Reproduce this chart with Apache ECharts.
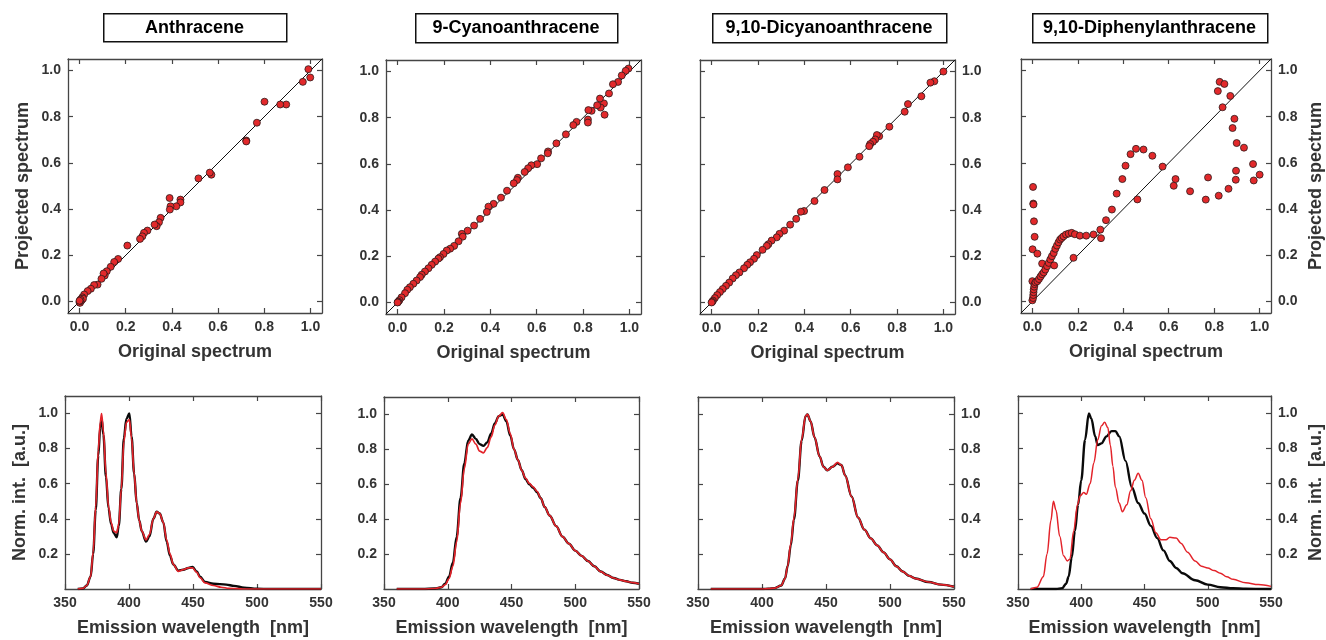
<!DOCTYPE html>
<html>
<head>
<meta charset="utf-8">
<script src="https://cdn.jsdelivr.net/npm/echarts@6/dist/echarts.min.js"></script>
<style>html,body{margin:0;background:#fff}#main{width:1326px;height:640px}</style>
</head>
<body>
<div id="main"></div>
<script>
// compound names (panel titles)
const titles = ['Anthracene', '9-Cyanoanthracene', '9,10-Dicyanoanthracene', '9,10-Diphenylanthracene'];

// tick labels
const scatterTicks = [0, 0.2, 0.4, 0.6, 0.8, 1.0];
const normTicks = [0.2, 0.4, 0.6, 0.8, 1.0];
const wlTicks = [350, 400, 450, 500, 550];

// identity line
const diag = [[-0.05, -0.05], [1.05, 1.05]];

// top row: [original, projected]
const anthScatter = [[0.999,0.970],[0.991,1.006],[0.967,0.951],[0.895,0.853],[0.869,0.853],[0.801,0.865],[0.768,0.774],[0.722,0.697],[0.722,0.693],[0.571,0.549],[0.564,0.558],[0.515,0.533],[0.437,0.441],[0.437,0.429],[0.419,0.412],[0.394,0.412],[0.390,0.448],[0.391,0.398],[0.351,0.362],[0.344,0.343],[0.334,0.326],[0.325,0.333],[0.294,0.307],[0.279,0.297],[0.272,0.282],[0.262,0.271],[0.207,0.242],[0.167,0.184],[0.150,0.171],[0.135,0.150],[0.118,0.131],[0.109,0.112],[0.104,0.121],[0.095,0.098],[0.078,0.073],[0.063,0.071],[0.049,0.055],[0.035,0.045],[0.020,0.030],[0.012,0.018],[0.008,0.010],[0.005,0.004],[0.003,0.001],[0.001,0.0],[0.0,-0.004],[0.002,-0.006],[0.006,0.002],[0.010,0.006],[0.015,0.012],[0.004,0.008],[0.0,0.003]];

const cyanoScatter = [[0.996,1.013],[0.984,1.003],[0.967,0.983],[0.951,0.955],[0.929,0.945],[0.912,0.905],[0.890,0.862],[0.873,0.883],[0.876,0.844],[0.893,0.813],[0.861,0.854],[0.837,0.830],[0.823,0.833],[0.821,0.792],[0.821,0.779],[0.772,0.782],[0.758,0.768],[0.726,0.728],[0.685,0.689],[0.649,0.654],[0.648,0.646],[0.619,0.624],[0.602,0.599],[0.577,0.594],[0.563,0.581],[0.548,0.565],[0.519,0.540],[0.515,0.530],[0.501,0.516],[0.472,0.484],[0.446,0.454],[0.414,0.427],[0.392,0.415],[0.385,0.392],[0.356,0.362],[0.330,0.333],[0.302,0.311],[0.277,0.297],[0.281,0.285],[0.263,0.265],[0.244,0.245],[0.227,0.233],[0.212,0.225],[0.198,0.210],[0.183,0.196],[0.176,0.190],[0.162,0.177],[0.147,0.163],[0.133,0.148],[0.118,0.134],[0.104,0.120],[0.097,0.110],[0.082,0.095],[0.068,0.081],[0.053,0.066],[0.042,0.055],[0.032,0.040],[0.017,0.022],[0.008,0.010],[0.003,0.004],[0.001,0.001],[0.0,0.0]];

const dicyanoScatter = [[1.0,1.0],[0.961,0.958],[0.944,0.952],[0.905,0.893],[0.847,0.859],[0.833,0.826],[0.767,0.761],[0.723,0.720],[0.713,0.725],[0.706,0.706],[0.696,0.696],[0.684,0.686],[0.680,0.677],[0.638,0.631],[0.588,0.585],[0.543,0.556],[0.543,0.533],[0.487,0.487],[0.444,0.439],[0.399,0.396],[0.385,0.393],[0.365,0.362],[0.339,0.337],[0.313,0.311],[0.293,0.297],[0.281,0.282],[0.259,0.268],[0.245,0.252],[0.238,0.245],[0.220,0.228],[0.195,0.205],[0.183,0.189],[0.166,0.174],[0.154,0.163],[0.140,0.148],[0.120,0.130],[0.105,0.118],[0.091,0.104],[0.076,0.086],[0.062,0.072],[0.048,0.058],[0.036,0.045],[0.024,0.032],[0.014,0.019],[0.006,0.008],[0.003,0.003],[0.0,0.0]];

const dpaScatter = [[0.003,0.496],[0.004,0.424],[0.005,0.420],[0.007,0.347],[0.010,0.280],[0.001,0.226],[0.022,0.207],[0.0,0.088],[0.043,0.164],[0.0,0.005],[0.003,0.015],[0.004,0.028],[0.005,0.040],[0.006,0.052],[0.008,0.064],[0.010,0.075],[0.014,0.083],[0.022,0.088],[0.029,0.097],[0.036,0.108],[0.043,0.118],[0.050,0.126],[0.057,0.138],[0.065,0.153],[0.072,0.167],[0.079,0.182],[0.086,0.196],[0.094,0.210],[0.101,0.228],[0.108,0.242],[0.115,0.256],[0.122,0.268],[0.129,0.275],[0.137,0.282],[0.148,0.290],[0.160,0.294],[0.173,0.297],[0.187,0.291],[0.209,0.285],[0.237,0.285],[0.269,0.290],[0.299,0.311],[0.302,0.274],[0.096,0.156],[0.181,0.189],[0.324,0.352],[0.350,0.398],[0.371,0.467],[0.396,0.530],[0.410,0.588],[0.432,0.638],[0.456,0.661],[0.489,0.658],[0.528,0.631],[0.573,0.584],[0.462,0.442],[0.622,0.501],[0.630,0.530],[0.694,0.477],[0.763,0.441],[0.773,0.537],[0.820,0.458],[0.863,0.488],[0.895,0.527],[0.896,0.566],[0.899,0.686],[0.931,0.666],[0.881,0.751],[0.889,0.791],[0.837,0.841],[0.871,0.890],[0.816,0.911],[0.824,0.951],[0.845,0.942],[0.971,0.595],[0.974,0.524],[1.000,0.549]];

// bottom row: [wavelength nm, normalised intensity]
const anthOrig = [[360,0],[364,0.003],[367,0.02],[370,0.07],[372,0.2],[374,0.45],[376,0.76],[377.5,0.92],[378.6,0.97],[380,0.88],[382,0.64],[384,0.46],[386,0.37],[388,0.32],[390.4,0.295],[392,0.36],[394,0.57],[396,0.86],[398,0.97],[400.3,1.0],[402,0.87],[404,0.66],[406,0.49],[408,0.39],[410,0.33],[413.3,0.27],[416,0.3],[419,0.4],[421.6,0.44],[424,0.43],[426.8,0.38],[429.4,0.27],[432,0.19],[434.6,0.14],[438.5,0.105],[442.4,0.11],[446.4,0.12],[449.7,0.125],[452.9,0.1],[455.5,0.07],[459.4,0.04],[466,0.03],[476,0.025],[482,0.018],[490,0.008],[500,0.002],[510,0],[550,0]];
const anthProj = [[360,0],[364,0.003],[367,0.02],[370,0.07],[372,0.21],[374,0.47],[376,0.79],[377.5,0.95],[378.6,1.0],[380,0.9],[382,0.66],[384,0.47],[386,0.38],[388,0.33],[390.4,0.32],[392,0.37],[394,0.57],[396,0.84],[398,0.95],[400.3,0.965],[402,0.86],[404,0.66],[406,0.49],[408,0.39],[410,0.33],[413.3,0.28],[416,0.31],[419,0.4],[421.6,0.44],[424,0.43],[426.8,0.38],[429.4,0.28],[432,0.2],[434.6,0.14],[438.5,0.1],[442.4,0.11],[446.4,0.12],[449.7,0.12],[452.9,0.095],[455.5,0.065],[459.4,0.035],[466,0.02],[472,0.01],[478,0.004],[485,0.002],[490,0],[550,0]];

const cyanoOrig = [[360,0],[370,0],[380,0],[390,0.003],[395,0.01],[398,0.03],[401,0.07],[404,0.15],[407,0.3],[410,0.52],[413,0.72],[416,0.85],[419,0.885],[422,0.86],[425,0.83],[428,0.82],[431,0.84],[434,0.89],[437,0.95],[440,0.99],[443,1.0],[446,0.96],[449,0.88],[452,0.8],[455,0.74],[458,0.68],[461,0.63],[464,0.6],[467,0.58],[470,0.555],[473,0.52],[476,0.47],[480,0.42],[485,0.36],[490,0.3],[495,0.26],[500,0.22],[505,0.19],[510,0.16],[515,0.13],[520,0.1],[525,0.08],[530,0.063],[535,0.052],[540,0.044],[545,0.036],[550,0.03]];
const cyanoProj = [[360,0],[370,0],[380,0],[390,0.003],[395,0.01],[398,0.025],[401,0.06],[404,0.13],[407,0.27],[410,0.49],[413,0.69],[416,0.83],[419,0.86],[422,0.83],[425,0.79],[428,0.78],[431,0.81],[434,0.87],[437,0.94],[440,0.99],[443,1.01],[446,0.97],[449,0.89],[452,0.8],[455,0.74],[458,0.68],[461,0.635],[464,0.605],[467,0.585],[470,0.56],[473,0.52],[476,0.47],[480,0.42],[485,0.36],[490,0.3],[495,0.26],[500,0.22],[505,0.19],[510,0.16],[515,0.13],[520,0.1],[525,0.08],[530,0.063],[535,0.052],[540,0.044],[545,0.036],[550,0.03]];

const dicyanoOrig = [[360,0],[380,0],[400,0],[405,0.002],[410,0.005],[415,0.02],[418,0.06],[420,0.13],[422.5,0.25],[425,0.4],[428,0.62],[431,0.85],[434,0.99],[435.5,1.0],[438,0.96],[441,0.87],[445,0.76],[448,0.7],[451,0.68],[455,0.7],[459,0.72],[462,0.71],[465,0.65],[470,0.53],[475,0.41],[480,0.34],[485,0.29],[490,0.25],[495,0.21],[500,0.17],[505,0.13],[510,0.1],[515,0.075],[520,0.06],[530,0.04],[540,0.025],[550,0.013]];
const dicyanoProj = [[360,0],[380,0],[400,0],[405,0.002],[410,0.005],[415,0.02],[418,0.06],[420,0.13],[422.5,0.26],[425,0.41],[428,0.63],[431,0.86],[434,0.99],[435.5,1.0],[438,0.96],[441,0.87],[445,0.76],[448,0.7],[451,0.68],[455,0.7],[459,0.725],[462,0.71],[465,0.65],[470,0.53],[475,0.41],[480,0.34],[485,0.29],[490,0.25],[495,0.21],[500,0.17],[505,0.13],[510,0.1],[515,0.075],[520,0.06],[530,0.04],[540,0.025],[550,0.013]];

const dpaOrig = [[360,0],[380,0],[385,0.005],[388,0.03],[390,0.07],[392.5,0.18],[395,0.33],[397.5,0.48],[400,0.62],[403,0.85],[406,1.0],[408,0.97],[411,0.87],[413,0.82],[416,0.83],[420,0.87],[424,0.9],[427,0.9],[430,0.87],[435,0.73],[440,0.58],[445,0.49],[450,0.43],[455,0.36],[460,0.29],[465,0.22],[470,0.16],[475,0.12],[480,0.09],[490,0.05],[500,0.025],[510,0.01],[520,0.004],[530,0.001],[550,0]];
const dpaProj = [[360,0],[365,0.01],[370,0.07],[373,0.2],[376,0.39],[378,0.5],[380,0.45],[383,0.3],[386,0.19],[389,0.16],[391,0.17],[394,0.33],[397,0.48],[399,0.53],[402,0.55],[404,0.54],[407,0.6],[410,0.72],[413,0.85],[416,0.93],[418.5,0.95],[421,0.92],[423,0.82],[425,0.7],[427,0.58],[430,0.49],[432.5,0.44],[436,0.48],[439,0.56],[442,0.62],[445,0.66],[448,0.62],[451,0.52],[455,0.4],[459,0.32],[463,0.28],[467,0.28],[470,0.295],[475,0.29],[479,0.26],[484,0.21],[490,0.16],[495,0.13],[500,0.12],[505,0.105],[510,0.09],[515,0.07],[520,0.055],[530,0.035],[540,0.025],[550,0.015]];

const scatterSets = [anthScatter, cyanoScatter, dicyanoScatter, dpaScatter];
const origSets = [anthOrig, cyanoOrig, dicyanoOrig, dpaOrig];
const projSets = [anthProj, cyanoProj, dicyanoProj, dpaProj];

const FONT = 'Liberation Sans, Arial, sans-serif';
const TXT = '#333';
const AXC = '#454545';

// grid boxes in px
const topGrids = [[68,59,254,254],[386,60,255,254],[700,60,255,254],[1021,59,254,254]];
const botGrids = [[65,396,256,193],[384,397,255,192],[698,397,256,192],[1018,396,256,193]];
const titleBoxes = [[103,13,183,28],[415,13,202,29],[712,13,234,29],[1032,13,235,29]];

let grid = [], xAxis = [], yAxis = [], series = [], graphic = [];

function axisBase(min, max, ticks, showLabel, fmt) {
  return {
    type: 'value', min: min, max: max,
    axisLine: { show: true, onZero: false, lineStyle: { color: AXC, width: 1.3 } },
    axisTick: { show: true, inside: true, length: 5, customValues: ticks, lineStyle: { color: AXC, width: 1.2 } },
    axisLabel: { show: showLabel, customValues: ticks, formatter: fmt, margin: 7,
      color: TXT, fontSize: 14, fontWeight: 'bold', fontFamily: FONT },
    splitLine: { show: false }
  };
}
const f1 = v => v.toFixed(1);
const f0 = v => String(v);

function addPanel(box, kind, col) {
  const gi = grid.length;
  grid.push({ left: box[0], top: box[1], width: box[2], height: box[3] });
  const rightSide = col >= 2;
  const nameStyle = { color: TXT, fontSize: 18, fontWeight: 'bold', fontFamily: FONT };
  let xr, yr, xt, yt, xname, yname, xgap;
  if (kind === 'scatter') {
    xr = [-0.05, 1.05]; yr = [-0.05, 1.05]; xt = scatterTicks; yt = scatterTicks;
    xname = 'Original spectrum'; yname = 'Projected spectrum'; xgap = 30;
  } else {
    xr = [350, 550]; yr = [0, 1.1]; xt = wlTicks; yt = normTicks;
    xname = 'Emission wavelength  [nm]'; yname = 'Norm. int.  [a.u.]'; xgap = 30;
  }
  const xfmt = kind === 'scatter' ? f1 : f0;
  const xa = axisBase(xr[0], xr[1], xt, true, xfmt);
  Object.assign(xa, { gridIndex: gi, position: 'bottom', name: xname, nameLocation: 'middle', nameGap: xgap,
    nameTextStyle: nameStyle });
  const xm = axisBase(xr[0], xr[1], xt, false, xfmt);
  Object.assign(xm, { gridIndex: gi, position: 'top' });
  const ya = axisBase(yr[0], yr[1], yt, true, f1);
  Object.assign(ya, { gridIndex: gi, position: rightSide ? 'right' : 'left' });
  if (col === 0 || col === 3) {
    Object.assign(ya, { name: yname, nameLocation: 'middle', nameRotate: 90, nameGap: 36, nameTextStyle: nameStyle });
  }
  const ym = axisBase(yr[0], yr[1], yt, false, f1);
  Object.assign(ym, { gridIndex: gi, position: rightSide ? 'left' : 'right' });
  const xi = xAxis.length, yi = yAxis.length;
  xAxis.push(xa, xm); yAxis.push(ya, ym);

  if (kind === 'scatter') {
    series.push({ type: 'line', xAxisIndex: xi, yAxisIndex: yi, data: diag, symbol: 'none', silent: true,
      lineStyle: { color: '#111', width: 1 }, z: 1 });
    series.push({ type: 'scatter', xAxisIndex: xi, yAxisIndex: yi, data: scatterSets[col], symbolSize: 7,
      itemStyle: { color: '#e2292b', borderColor: '#2b1b1b', borderWidth: 0.8, opacity: 1 }, z: 3 });
  } else {
    series.push({ type: 'line', xAxisIndex: xi, yAxisIndex: yi, data: origSets[col], symbol: 'none',
      smooth: 0.35, smoothMonotone: 'x', lineStyle: { color: '#0a0a0a', width: 2.4 }, z: 2 });
    series.push({ type: 'line', xAxisIndex: xi, yAxisIndex: yi, data: projSets[col], symbol: 'none',
      smooth: 0.35, smoothMonotone: 'x', lineStyle: { color: '#e3232a', width: col === 3 ? 1.5 : 1.7 }, z: 3 });
  }
}

for (let c = 0; c < 4; c++) addPanel(topGrids[c], 'scatter', c);
for (let c = 0; c < 4; c++) addPanel(botGrids[c], 'line', c);

titleBoxes.forEach((b, i) => {
  graphic.push({ type: 'rect', left: b[0], top: b[1], shape: { width: b[2], height: b[3] },
    style: { fill: '#fff', stroke: '#111', lineWidth: 1.5 } });
  graphic.push({ type: 'text', x: b[0] + b[2] / 2, y: b[1] + b[3] / 2 + 1,
    style: { text: titles[i], fill: '#000', font: 'bold 18px ' + FONT, textAlign: 'center', textVerticalAlign: 'middle' } });
});

const chart = echarts.init(document.getElementById('main'));
chart.setOption({
  animation: false,
  backgroundColor: '#fff',
  grid: grid, xAxis: xAxis, yAxis: yAxis, series: series, graphic: graphic
});
</script>
</body>
</html>
